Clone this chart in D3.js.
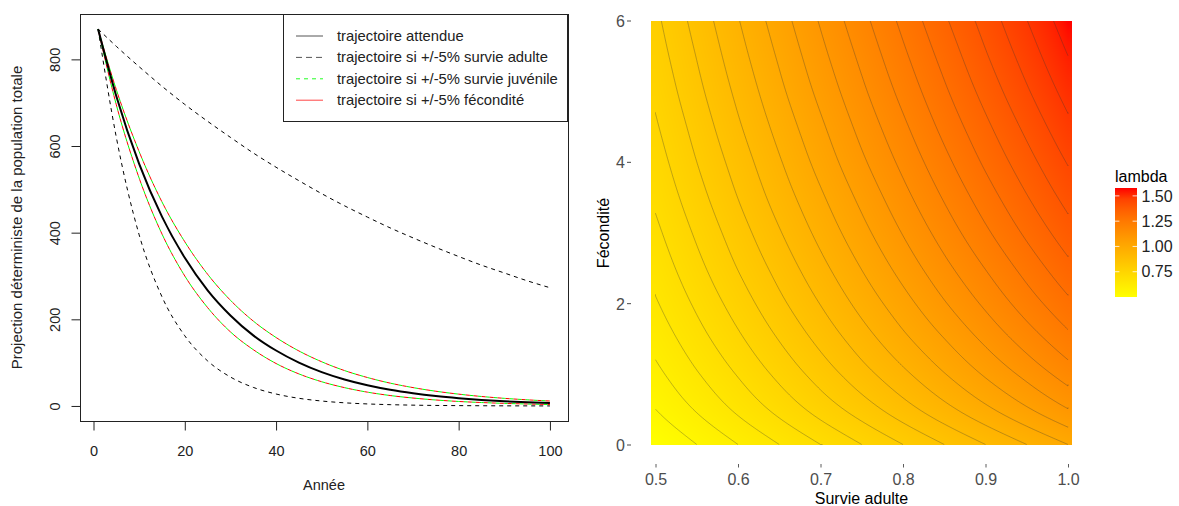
<!DOCTYPE html>
<html><head><meta charset="utf-8">
<script src="https://cdn.jsdelivr.net/npm/d3@7"></script>
<style>
body{margin:0;background:#fff}
svg{display:block}
text{font-family:"Liberation Sans",Arial,Helvetica,sans-serif}
</style>
</head><body>
<svg id="c" width="1179" height="506"></svg>
<script>
// ---------------- LEFT PANEL DATA ----------------
const years = [1,5,10,15,20,25,30,35,40,45,50,55,60,65,70,75,80,85,90,95,100];
const attendue      = [870,715,559,437,342,267,209,163,128,100,78.1,61.1,47.8,37.3,29.2,22.8,17.9,14.0,10.9,8.5,6.7];
const adulteHaut    = [870,830,783,738,696,657,620,584,551,520,490,462,436,411,388,366,345,325,307,289,273];
const adulteBas     = [870,620,395,252,162,104,66.8,42.9,27.6,17.7,11.4,7.3,4.7,3.0,1.9,1.2,0.8,0.5,0.3,0.2,0.1];
const juvenileHaut  = [870,730,587,471,379,304,244,196,158,127,102,81.7,65.7,52.7,42.4,34.0,27.3,21.9,17.6,14.2,11.4];
const juvenileBas   = [870,695,526,397,300,227,171,130,98.0,74.0,55.9,42.3,31.9,24.1,18.3,13.8,10.4,7.9,6.0,4.5,3.4];
const feconditeHaut = [870,730,587,471,379,304,244,196,158,127,102,81.7,65.7,52.7,42.4,34.0,27.3,21.9,17.6,14.2,11.4];
const feconditeBas  = [870,695,526,397,300,227,171,130,98.0,74.0,55.9,42.3,31.9,24.1,18.3,13.8,10.4,7.9,6.0,4.5,3.4];
const xTicksLeft = [0,20,40,60,80,100];
const yTicksLeft = [0,200,400,600,800];
const legendLabels = ["trajectoire attendue","trajectoire si +/-5% survie adulte","trajectoire si +/-5% survie juvénile","trajectoire si +/-5% fécondité"];

// ---------------- RIGHT PANEL DATA ----------------
const survieGrid = [0.50,0.55,0.60,0.65,0.70,0.75,0.80,0.85,0.90,0.95,1.00];
const feconditeGrid = [0,0.5,1,1.5,2,2.5,3,3.5,4,4.5,5,5.5,6];
const lambdaGrid = [
 [0.500,0.550,0.600,0.650,0.700,0.750,0.800,0.850,0.900,0.950,1.000],
 [0.550,0.605,0.660,0.715,0.770,0.824,0.879,0.934,0.989,1.044,1.099],
 [0.587,0.646,0.704,0.763,0.822,0.881,0.939,0.998,1.057,1.115,1.174],
 [0.618,0.680,0.741,0.803,0.865,0.927,0.989,1.050,1.112,1.174,1.236],
 [0.645,0.709,0.773,0.838,0.902,0.967,1.031,1.096,1.160,1.225,1.289],
 [0.668,0.735,0.802,0.868,0.935,1.002,1.069,1.136,1.202,1.269,1.336],
 [0.689,0.758,0.827,0.896,0.965,1.034,1.103,1.172,1.241,1.310,1.379],
 [0.709,0.780,0.851,0.922,0.992,1.063,1.134,1.205,1.276,1.347,1.418],
 [0.727,0.800,0.872,0.945,1.018,1.091,1.163,1.236,1.309,1.381,1.454],
 [0.744,0.818,0.893,0.967,1.041,1.116,1.190,1.265,1.339,1.413,1.488],
 [0.760,0.836,0.912,0.988,1.064,1.140,1.216,1.292,1.368,1.444,1.520],
 [0.775,0.852,0.930,1.007,1.085,1.162,1.240,1.317,1.395,1.472,1.550],
 [0.789,0.868,0.947,1.026,1.105,1.184,1.263,1.342,1.420,1.499,1.578]
];
const contourLevels = [0.55,0.60,0.65,0.70,0.75,0.80,0.85,0.90,0.95,1.00,1.05,1.10,1.15,1.20,1.25,1.30,1.35,1.40,1.45,1.50,1.55];
const xTicksRight = [0.5,0.6,0.7,0.8,0.9,1.0];
const yTicksRight = [0,2,4,6];
const lambdaTicks = [0.75,1.00,1.25,1.50];

const svg = d3.select("#c");
const FONT = "Liberation Sans, Arial";

// ================= LEFT PLOT =================
const xL = d3.scaleLinear().domain([-2.96, 103.96]).range([80, 568]);
const yL = d3.scaleLinear().domain([-34.7, 904.7]).range([421, 14]);
const lineGen = vals => d3.line().x((d,i)=>xL(years[i])).y(d=>yL(d)).curve(d3.curveMonotoneX)(vals);

const seriesStyles = [
  {v: adulteHaut, c:"#000", w:1, dash:"4,4", off:0},
  {v: adulteBas, c:"#000", w:1, dash:"4,4", off:0},
  {v: juvenileHaut, c:"#00ff00", w:1, dash:"4,4", off:0},
  {v: juvenileBas, c:"#00ff00", w:1, dash:"4,4", off:0},
  {v: feconditeHaut, c:"#ff0000", w:1, dash:"4,4", off:4},
  {v: feconditeBas, c:"#ff0000", w:1, dash:"4,4", off:4},
  {v: attendue, c:"#000", w:2, dash:null, off:0}
];
const gL = svg.append("g");
seriesStyles.forEach(s => {
  gL.append("path").attr("d", lineGen(s.v)).attr("fill","none")
    .attr("stroke", s.c).attr("stroke-width", s.w)
    .attr("stroke-dasharray", s.dash).attr("stroke-dashoffset", s.off);
});

// box
svg.append("rect").attr("x",80.5).attr("y",14.5).attr("width",488).attr("height",407)
  .attr("fill","none").attr("stroke","#222").attr("stroke-width",1);

// x axis
const axL = svg.append("g").attr("transform","translate(0,421.5)")
  .call(d3.axisBottom(xL).tickValues(xTicksLeft).tickSize(9).tickSizeOuter(0).tickPadding(15));
axL.select(".domain").remove();
axL.selectAll("line").attr("stroke","#222");
axL.selectAll("text").attr("font-size",14.5).attr("fill","#222").attr("font-family",FONT);

// y axis
const ayL = svg.append("g").attr("transform","translate(80.5,0)")
  .call(d3.axisLeft(yL).tickValues(yTicksLeft).tickSize(9).tickSizeOuter(0));
ayL.select(".domain").remove();
ayL.selectAll("line").attr("stroke","#222");
ayL.selectAll("text").attr("x",null).attr("dy",null).attr("text-anchor","middle")
  .attr("transform","translate(-21,0) rotate(-90)")
  .attr("font-size",14.5).attr("fill","#222").attr("font-family",FONT);

svg.append("text").attr("x",324).attr("y",490).attr("text-anchor","middle")
  .attr("font-size",14.5).attr("fill","#222").text("Année");
svg.append("text").attr("transform","translate(22,217.5) rotate(-90)").attr("text-anchor","middle")
  .attr("font-size",15).attr("fill","#222").text("Projection déterministe de la population totale");

// legend
const lg = svg.append("g");
lg.append("rect").attr("x",283.5).attr("y",14.5).attr("width",284).attr("height",107)
  .attr("fill","#fff").attr("stroke","#222").attr("stroke-width",1);
const legStyles = [
  {c:"#555", dash:null},
  {c:"#555", dash:"6,4"},
  {c:"#22ff22", dash:"4,4"},
  {c:"#ff4444", dash:null}
];
legendLabels.forEach((t,i) => {
  const y = 36 + i*21.4;
  lg.append("line").attr("x1",296).attr("x2",323).attr("y1",y).attr("y2",y)
    .attr("stroke",legStyles[i].c).attr("stroke-width",1).attr("stroke-dasharray",legStyles[i].dash);
  lg.append("text").attr("x",337).attr("y",y+5).attr("font-size",14.8).attr("fill","#222").text(t);
});

// ================= RIGHT PLOT =================
const xR = d3.scaleLinear().domain([0.5, 1.0]).range([655.5, 1068]);
const yR = d3.scaleLinear().domain([0, 6]).range([444.5, 20.5]);
const lamMin = d3.min(lambdaGrid.flat()), lamMax = d3.max(lambdaGrid.flat());
const colorScale = d3.scaleLinear().domain([lamMin, lamMax]).range(["#ffff00","#ff0000"]).interpolate(d3.interpolateLab);

function catmull(p0,p1,p2,p3,t){
  return 0.5*((2*p1) + (-p0+p2)*t + (2*p0-5*p1+4*p2-p3)*t*t + (-p0+3*p1-3*p2+p3)*t*t*t);
}
const nS = survieGrid.length, nF = feconditeGrid.length;
const iS = d3.scaleLinear().domain([survieGrid[0], survieGrid[nS-1]]).range([0, nS-1]);
const iF = d3.scaleLinear().domain([feconditeGrid[0], feconditeGrid[nF-1]]).range([0, nF-1]);
function gridAt(r,c){
  if (r < 0) return 2*lambdaGrid[0][c] - lambdaGrid[1][c];
  if (r > nF-1) return 2*lambdaGrid[nF-1][c] - lambdaGrid[nF-2][c];
  return lambdaGrid[r][c];
}
function colValue(c, fi){
  const j = Math.min(Math.max(Math.floor(fi),0), nF-2); const t = fi - j;
  return catmull(gridAt(j-1,c), gridAt(j,c), gridAt(j+1,c), gridAt(j+2,c), t);
}
function lambdaAt(s,f){
  const si = Math.max(0, Math.min(nS-1, iS(s)));
  const fi = Math.max(0, Math.min(nF-1, iF(f)));
  const c = Math.min(Math.floor(si), nS-2); const u = si - c;
  return colValue(c,fi)*(1-u) + colValue(c+1,fi)*u;
}

// raster
const rx0 = Math.round(xR(0.495)), rx1 = Math.round(xR(1.005));
const ry0 = Math.round(yR(6)), ry1 = Math.round(yR(0));
const W = rx1-rx0, H = ry1-ry0;
const cv = document.createElement("canvas"); cv.width = W; cv.height = H;
const ctx = cv.getContext("2d");
const img = ctx.createImageData(W,H);
for (let py=0; py<H; py++){
  const f = Math.max(0, Math.min(6, yR.invert(ry0+py+0.5)));
  for (let px=0; px<W; px++){
    const s = Math.max(0.5, Math.min(1, xR.invert(rx0+px+0.5)));
    const col = d3.rgb(colorScale(lambdaAt(s,f)));
    const k = (py*W+px)*4;
    img.data[k]=col.r; img.data[k+1]=col.g; img.data[k+2]=col.b; img.data[k+3]=255;
  }
}
ctx.putImageData(img,0,0);
svg.append("image").attr("x",rx0).attr("y",ry0).attr("width",W).attr("height",H)
  .attr("href", cv.toDataURL());

// contours
const nx = 201, ny = 241;
const cs = d3.scaleLinear().domain([0.5, nx-0.5]).range([0.5, 1.0]);
const cf = d3.scaleLinear().domain([0.5, ny-0.5]).range([0, 6]);
const vals = new Array(nx*ny);
for (let j=0;j<ny;j++) for (let i=0;i<nx;i++) vals[j*nx+i] = lambdaAt(cs(i+0.5), cf(j+0.5));
const conts = d3.contours().size([nx,ny]).thresholds(contourLevels)(vals);
const onB = p => p[0]<=0 || p[0]>=nx || p[1]<=0 || p[1]>=ny;
const PX = p => xR(Math.max(0.5, Math.min(1, cs(p[0])))).toFixed(2);
const PY = p => yR(Math.max(0, Math.min(6, cf(p[1])))).toFixed(2);
let dstr = "";
conts.forEach(mp => mp.coordinates.forEach(poly => poly.forEach(ring => {
  let pen = false;
  for (let k=1;k<ring.length;k++){
    const a = ring[k-1], b = ring[k];
    if (onB(a) && onB(b)) { pen = false; continue; }
    if (!pen) { dstr += `M${PX(a)},${PY(a)}`; pen = true; }
    dstr += `L${PX(b)},${PY(b)}`;
  }
})));
svg.append("clipPath").attr("id","pc").append("rect").attr("x",rx0).attr("y",ry0).attr("width",W).attr("height",H);
svg.append("path").attr("d", dstr).attr("clip-path","url(#pc)").attr("fill","none")
  .attr("stroke","#333").attr("stroke-opacity",0.42).attr("stroke-width",0.75);

// right axes
const axR = svg.append("g").attr("transform","translate(0,464)")
  .call(d3.axisBottom(xR).tickValues(xTicksRight).tickSize(3.5).tickSizeOuter(0).tickFormat(d3.format(".1f")));
axR.select(".domain").remove();
axR.selectAll("line").attr("stroke","#333").attr("stroke-width",0.8);
axR.selectAll("text").attr("y",20.5).attr("dy",null).attr("font-size",16).attr("fill","#4d4d4d")
  .attr("font-family",FONT);

const ayR = svg.append("g").attr("transform","translate(631,0)")
  .call(d3.axisLeft(yR).tickValues(yTicksRight).tickSize(4).tickSizeOuter(0).tickPadding(2).tickFormat(d3.format("d")));
ayR.select(".domain").remove();
ayR.selectAll("line").attr("stroke","#333").attr("stroke-width",0.9);
ayR.selectAll("text").attr("dy","0.38em").attr("font-size",16).attr("fill","#4d4d4d")
  .attr("font-family",FONT);

svg.append("text").attr("x",(rx0+rx1)/2).attr("y",504).attr("text-anchor","middle")
  .attr("font-size",16).attr("fill","#000").text("Survie adulte");
svg.append("text").attr("transform",`translate(609,${(ry0+ry1)/2}) rotate(-90)`).attr("text-anchor","middle")
  .attr("font-size",16).attr("fill","#000").text("Fécondité");

// colorbar legend
const cb = d3.scaleLinear().domain([lamMin, lamMax]).range([297, 188]);
const defs = svg.append("defs");
const grad = defs.append("linearGradient").attr("id","cbg").attr("x1",0).attr("x2",0).attr("y1",1).attr("y2",0);
d3.range(0,1.0001,0.1).forEach(t => {
  grad.append("stop").attr("offset",t).attr("stop-color", colorScale(lamMin + t*(lamMax-lamMin)));
});
svg.append("rect").attr("x",1115).attr("y",cb(lamMax)).attr("width",22).attr("height",cb(lamMin)-cb(lamMax))
  .attr("fill","url(#cbg)");
lambdaTicks.forEach(v => {
  const y = cb(v);
  svg.append("line").attr("x1",1115).attr("x2",1119.4).attr("y1",y).attr("y2",y).attr("stroke","#fff").attr("stroke-width",0.8);
  svg.append("line").attr("x1",1132.6).attr("x2",1137).attr("y1",y).attr("y2",y).attr("stroke","#fff").attr("stroke-width",0.8);
  svg.append("text").attr("x",1141.5).attr("y",y).attr("dy","0.36em").attr("font-size",16).attr("fill","#222")
    .text(d3.format(".2f")(v));
});
svg.append("text").attr("x",1115).attr("y",182).attr("font-size",16).attr("fill","#000").text("lambda");
</script>
</body></html>
